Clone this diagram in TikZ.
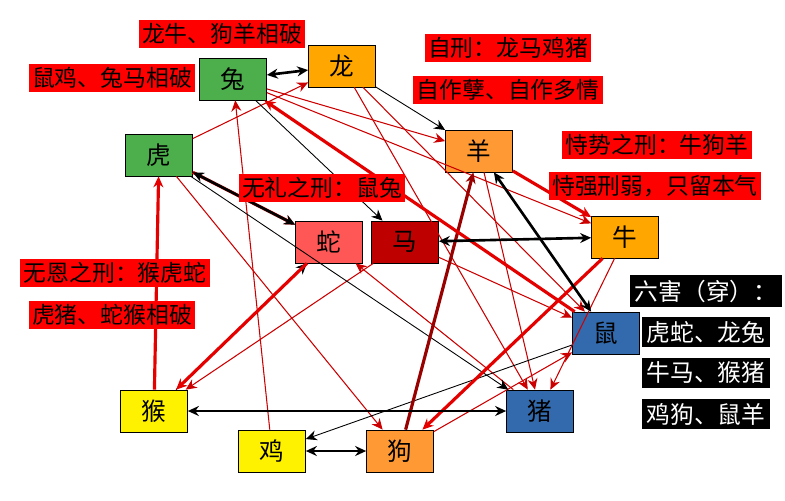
\documentclass[tikz,border=0pt]{standalone}
\usepackage{fontspec}
\newfontfamily\cjk{Noto Sans CJK SC}
\usetikzlibrary{arrows.meta}
\begin{document}
\begin{tikzpicture}[x=0.2mm, y=-0.2mm, >={Stealth[length=2.2mm,width=2mm]},
animal/.style={draw=black, minimum width=13.4mm, minimum height=8.4mm, inner sep=0, font=\cjk\fontsize{14}{14}\selectfont},
redlabel/.style={fill=red, inner sep=2pt, font=\cjk\fontsize{13}{14}\selectfont},
blacklabel/.style={fill=black, text=white, inner sep=2.5pt, font=\cjk\fontsize{13.5}{14}\selectfont},
harm/.style={<->, line width=1.5pt},
punish/.style={->, red!90!black, line width=1.8pt},
thinred/.style={->, red!80!black, line width=0.6pt},
thinblack/.style={->, black, line width=0.5pt},
]
\useasboundingbox[fill=white] (0,0) rectangle (785,500);

%%%%%%%% ANIMALS %%%%%%%%
\node[animal, fill=green!55!black!70] (tu) at (233,79) {兔};
\node[animal, fill=orange!70!yellow] (long) at (342,66) {龙};
\node[animal, fill=green!55!black!70] (hu) at (159,155) {虎};
\node[animal, fill=orange!80] (yang) at (479,151) {羊};
\node[animal, fill=red!55!pink] (she) at (329,242) {蛇};
\node[animal, fill=red!75!black] (ma) at (405,242) {马};
\node[animal, fill=orange!70!yellow] (niu) at (625,237) {牛};
\node[animal, fill=blue!55!cyan!60!black!80] (shu) at (606,333) {鼠};
\node[animal, fill=yellow] (hou) at (154,411) {猴};
\node[animal, fill=blue!55!cyan!60!black!80] (zhu) at (540,411) {猪};
\node[animal, fill=yellow] (ji) at (272,451) {鸡};
\node[animal, fill=orange!80] (gou) at (400,451) {狗};

%%%%%%%% THIN LINES %%%%%%%%
\draw[thinred] (hu) -- (long);
\draw[thinred] (tu) -- (yang);
\draw[thinred] (tu) -- (niu);
\draw[thinred] (ji) -- (tu);
\draw[thinred] (long) -- (zhu);
\draw[thinred] (long) -- (shu);
\draw[thinred] (hu) -- (gou);
\draw[thinred] (zhu) -- (she);
\draw[thinred] (ma) -- (hou);
\draw[thinred] (yang) -- (zhu);
\draw[thinred] (niu) -- (zhu);
\draw[thinred] (ma) -- (shu);
\draw[thinred] (gou) -- (shu);
\draw[thinblack] (long) -- (yang);
\draw[thinblack] (shu) -- (ji);
\draw[thinblack] (hou) -- (she);
\draw[thinblack] (hu) -- (zhu);
\draw[thinblack] (tu) -- (ma);

%%%%%%%% THREE PUNISHMENTS %%%%%%%%
\draw[punish] (hu) -- (she);
\draw[punish] (she) -- (hou);
\draw[punish] (hou) -- (hu);
\draw[punish] (niu) -- (gou);
\draw[punish, red!60!black] (gou) -- (yang);
\draw[punish] (yang) -- (niu);
\draw[punish] (shu) -- (tu);

%%%%%%%% SIX HARMS %%%%%%%%
\draw[harm] (tu) -- (long);
\draw[harm] (hu) -- (she);
\draw[harm] (ma) -- (niu);
\draw[harm] (yang) -- (shu);
\draw[harm] (hou) -- (zhu);
\draw[harm] (ji) -- (gou);

%%%%%%%% LABELS %%%%%%%%
\node[redlabel] (poA) at (222,34) {龙牛、狗羊相破};
\node[redlabel] (poB) at (112,78) {鼠鸡、兔马相破};
\node[redlabel] (zixing) at (508,48) {自刑：龙马鸡猪};
\node[redlabel] (zizuo) at (508,90) {自作孽、自作多情};
\node[redlabel] (shishi) at (657,145) {恃势之刑：牛狗羊};
\node[redlabel] (shiqiang) at (655,186) {恃强刑弱，只留本气};
\node[redlabel] (wuli) at (322,188) {无礼之刑：鼠兔};
\node[redlabel] (wuen) at (115,273) {无恩之刑：猴虎蛇};
\node[redlabel] (poC) at (112,315) {虎猪、蛇猴相破};
\node[blacklabel] (liuhai) at (706,291) {六害（穿）：};
\node[blacklabel] (hA) at (706,332) {虎蛇、龙兔};
\node[blacklabel] (hB) at (706,373) {牛马、猴猪};
\node[blacklabel] (hC) at (706,414) {鸡狗、鼠羊};
\end{tikzpicture}
\end{document}
